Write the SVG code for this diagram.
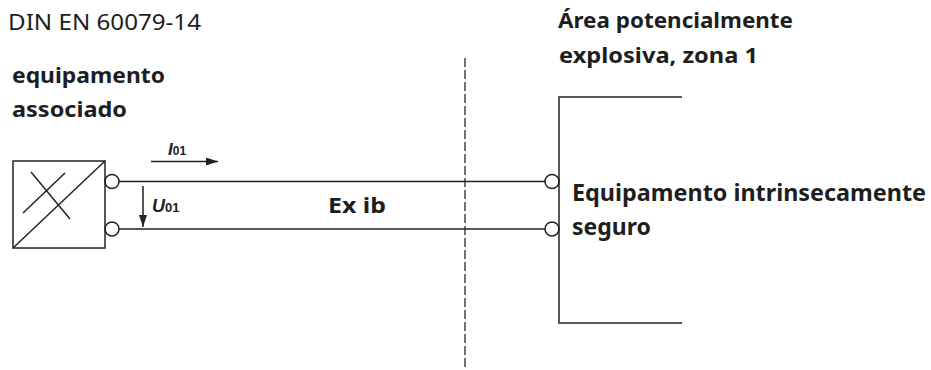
<svg xmlns="http://www.w3.org/2000/svg" width="931" height="370" viewBox="0 0 931 370">
<style>
.ln{stroke:#222;stroke-width:1.5;fill:none}
.t{font-family:"Noto Sans","Open Sans","Liberation Sans",sans-serif;fill:#1e1e1e}
.b{font-weight:bold}
.sym{font-family:"Liberation Sans",Arial,sans-serif;font-weight:bold;font-style:italic;fill:#222}
.sub{font-family:"Liberation Sans",Arial,sans-serif;font-weight:bold;fill:#222}
.dash{stroke:#444;stroke-width:1.5;stroke-dasharray:9 3;fill:none}
</style>
<defs>
<marker id="ah" viewBox="0 0 12 8" refX="12" refY="4" markerWidth="12" markerHeight="8" markerUnits="userSpaceOnUse" orient="auto">
<path d="M0,0 L12,4 L0,8 Z" fill="#222"/>
</marker>
</defs>
<rect width="931" height="370" fill="#fff"/>
<g id="header">
<text class="t" x="8" y="30" font-size="21" textLength="193" lengthAdjust="spacingAndGlyphs">DIN EN 60079-14</text>
</g>
<g id="equipamento-associado">
<text class="t b" x="12" y="83" font-size="22" textLength="153" lengthAdjust="spacingAndGlyphs">equipamento</text>
<text class="t b" x="12" y="117" font-size="22" textLength="115" lengthAdjust="spacingAndGlyphs">associado</text>
<rect class="ln" x="13" y="161" width="92" height="87"/>
<line class="ln" x1="13" y1="248" x2="105" y2="161"/>
<line class="ln" x1="31" y1="172" x2="70" y2="219"/>
<line class="ln" x1="23" y1="213" x2="65" y2="173"/>
<circle class="ln" cx="112" cy="181.5" r="7"/>
<circle class="ln" cx="112" cy="229" r="7"/>
</g>
<g id="zone-boundary">
<line class="dash" x1="465" y1="58" x2="465" y2="370"/>
</g>
<g id="area-header">
<text class="t b" x="558" y="28" font-size="22" textLength="235" lengthAdjust="spacingAndGlyphs">Área potencialmente</text>
<text class="t b" x="559" y="63" font-size="22" textLength="199" lengthAdjust="spacingAndGlyphs">explosiva, zona 1</text>
</g>
<g id="equipamento-intrinsecamente-seguro">
<polyline class="ln" points="682,97 559,97 559,323 682,323"/>
<circle class="ln" cx="552" cy="181.5" r="7"/>
<circle class="ln" cx="552" cy="229" r="7"/>
<text class="t b" x="572" y="201" font-size="23" textLength="354" lengthAdjust="spacingAndGlyphs">Equipamento intrinsecamente</text>
<text class="t b" x="572" y="235" font-size="23" textLength="79" lengthAdjust="spacingAndGlyphs">seguro</text>
</g>
<g id="connectors">
<line class="ln" x1="119" y1="181.5" x2="545" y2="181.5"/>
<line class="ln" x1="119" y1="229" x2="545" y2="229"/>
<line class="ln" x1="151" y1="161.5" x2="218" y2="161.5" marker-end="url(#ah)"/>
<line class="ln" x1="143" y1="186" x2="143" y2="227" marker-end="url(#ah)"/>
</g>
<g id="labels">
<text x="168" y="155"><tspan class="sym" font-size="17">I</tspan><tspan class="sub" font-size="12">01</tspan></text>
<text x="152" y="212"><tspan class="sym" font-size="18">U</tspan><tspan class="sub" font-size="13">01</tspan></text>
<text class="t b" x="328" y="213" font-size="22" textLength="58" lengthAdjust="spacingAndGlyphs">Ex ib</text>
</g>
</svg>
